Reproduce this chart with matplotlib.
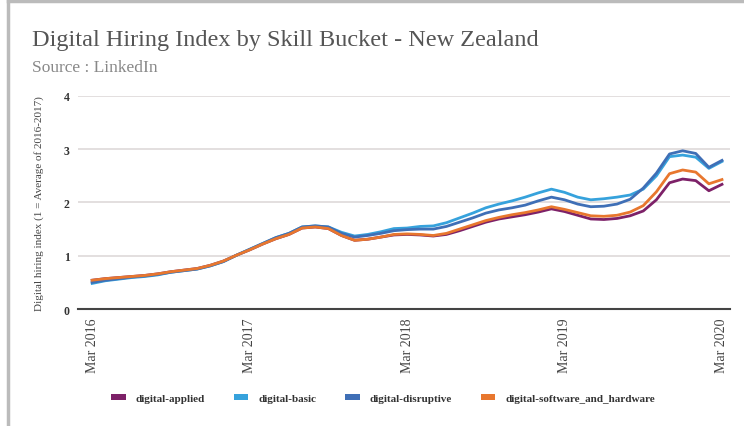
import matplotlib
matplotlib.use("Agg")
import matplotlib.pyplot as plt
from matplotlib.lines import Line2D
from matplotlib.patches import Patch
import numpy as np

# monthly index, Mar 2016 .. Mar 2020
months = np.arange(49)
tick_pos = [0, 12, 24, 36, 48]
tick_labels = ["Mar 2016", "Mar 2017", "Mar 2018", "Mar 2019", "Mar 2020"]

software = [0.54, 0.57, 0.59, 0.61, 0.63, 0.66, 0.70, 0.73, 0.76, 0.82,
            0.90, 1.01, 1.11, 1.22, 1.32, 1.40, 1.52, 1.54, 1.51, 1.38,
            1.29, 1.31, 1.35, 1.40, 1.41, 1.40, 1.38, 1.42, 1.50, 1.58,
            1.66, 1.72, 1.77, 1.81, 1.86, 1.92, 1.87, 1.81, 1.75, 1.74,
            1.76, 1.82, 1.94, 2.20, 2.54, 2.61, 2.57, 2.35, 2.43]
applied = [0.54, 0.57, 0.59, 0.61, 0.63, 0.66, 0.70, 0.73, 0.76, 0.82,
           0.90, 1.01, 1.11, 1.22, 1.32, 1.40, 1.52, 1.54, 1.51, 1.38,
           1.29, 1.31, 1.35, 1.39, 1.40, 1.39, 1.37, 1.40, 1.47, 1.55,
           1.63, 1.69, 1.73, 1.77, 1.82, 1.88, 1.83, 1.76, 1.69, 1.68,
           1.70, 1.75, 1.84, 2.05, 2.37, 2.44, 2.41, 2.22, 2.34]
basic = [0.48, 0.53, 0.56, 0.59, 0.61, 0.64, 0.69, 0.72, 0.75, 0.81,
         0.89, 1.01, 1.12, 1.23, 1.34, 1.42, 1.54, 1.56, 1.54, 1.44,
         1.37, 1.40, 1.45, 1.51, 1.52, 1.55, 1.56, 1.62, 1.71, 1.80,
         1.90, 1.97, 2.03, 2.10, 2.18, 2.25, 2.19, 2.10, 2.05, 2.07,
         2.10, 2.14, 2.25, 2.50, 2.86, 2.89, 2.85, 2.64, 2.77]
disruptive = [0.50, 0.54, 0.57, 0.60, 0.62, 0.65, 0.69, 0.72, 0.75, 0.81,
              0.89, 1.01, 1.12, 1.23, 1.34, 1.42, 1.54, 1.56, 1.54, 1.42,
              1.35, 1.38, 1.42, 1.47, 1.49, 1.50, 1.50, 1.55, 1.63, 1.71,
              1.80, 1.86, 1.90, 1.95, 2.03, 2.10, 2.05, 1.97, 1.92, 1.93,
              1.97, 2.06, 2.27, 2.55, 2.91, 2.97, 2.92, 2.66, 2.79]

series = [
    ("digital-applied", applied, "#7d2168"),
    ("digital-basic", basic, "#36a2dc"),
    ("digital-disruptive", disruptive, "#3f6fb6"),
    ("digital-software_and_hardware", software, "#e8772e"),
]

plt.rcParams['font.family'] = ['Liberation Serif', 'DejaVu Serif']

fig = plt.figure(figsize=(7.44, 4.27), dpi=100)
ax = fig.add_axes([0.105, 0.274, 0.876, 0.499])

# draw order: software and applied underneath, blues on top
for idx in [0, 3, 2, 1]:
    name, vals, col = series[idx]
    ax.plot(months, vals, color=col, lw=2.0, zorder=3 + idx * 0.1)

ax.set_xlim(-1.07, 48.6)
ax.set_ylim(0, 4)
ax.set_yticks([0, 1, 2, 3, 4])
ax.set_yticklabels(["0", "1", "2", "3", "4"], fontweight="bold", fontsize=8.5, color="#333")
ax.set_xticks(tick_pos)
ax.set_xticklabels(tick_labels, rotation=90, fontsize=10, color="#444")
ax.tick_params(length=0, pad=6)
ax.grid(axis="y", color="#e0dcdc", lw=1.3)
ax.set_axisbelow(True)
for s in ["top", "right", "left"]:
    ax.spines[s].set_visible(False)
ax.spines["bottom"].set_color("#444")
ax.spines["bottom"].set_linewidth(1.5)
ax.spines["bottom"].set_zorder(5)

ax.set_ylabel("Digital hiring index (1 = Average of 2016-2017)", fontsize=8, color="#444", labelpad=14)

fig.text(0.043, 0.905, "Digital Hiring Index by Skill Bucket - New Zealand",
         fontsize=17.5, color="#555555", va="center")
fig.text(0.043, 0.84, "Source : LinkedIn", fontsize=12.5, color="#888888", va="center")

handles = [Patch(facecolor=c, edgecolor="none") for _, _, c in series]
labels = [n for n, _, _ in series]
leg = fig.legend(handles, labels, loc="center", bbox_to_anchor=(0.515, 0.065), ncol=4,
                 frameon=False, handlelength=1.3, handleheight=0.45,
                 columnspacing=2.6, handletextpad=0.9,
                 prop={'weight': 'bold', 'size': 8})
for t in leg.get_texts():
    t.set_color("#333")

# frame lines of the screenshot
fig.add_artist(Line2D([0.011, 0.011], [0, 0.995], color="#bbbbbb", lw=2.5, transform=fig.transFigure))
fig.add_artist(Line2D([0.011, 1.0], [0.995, 0.995], color="#bbbbbb", lw=2.5, transform=fig.transFigure))

fig.savefig("out.png", dpi=100)
